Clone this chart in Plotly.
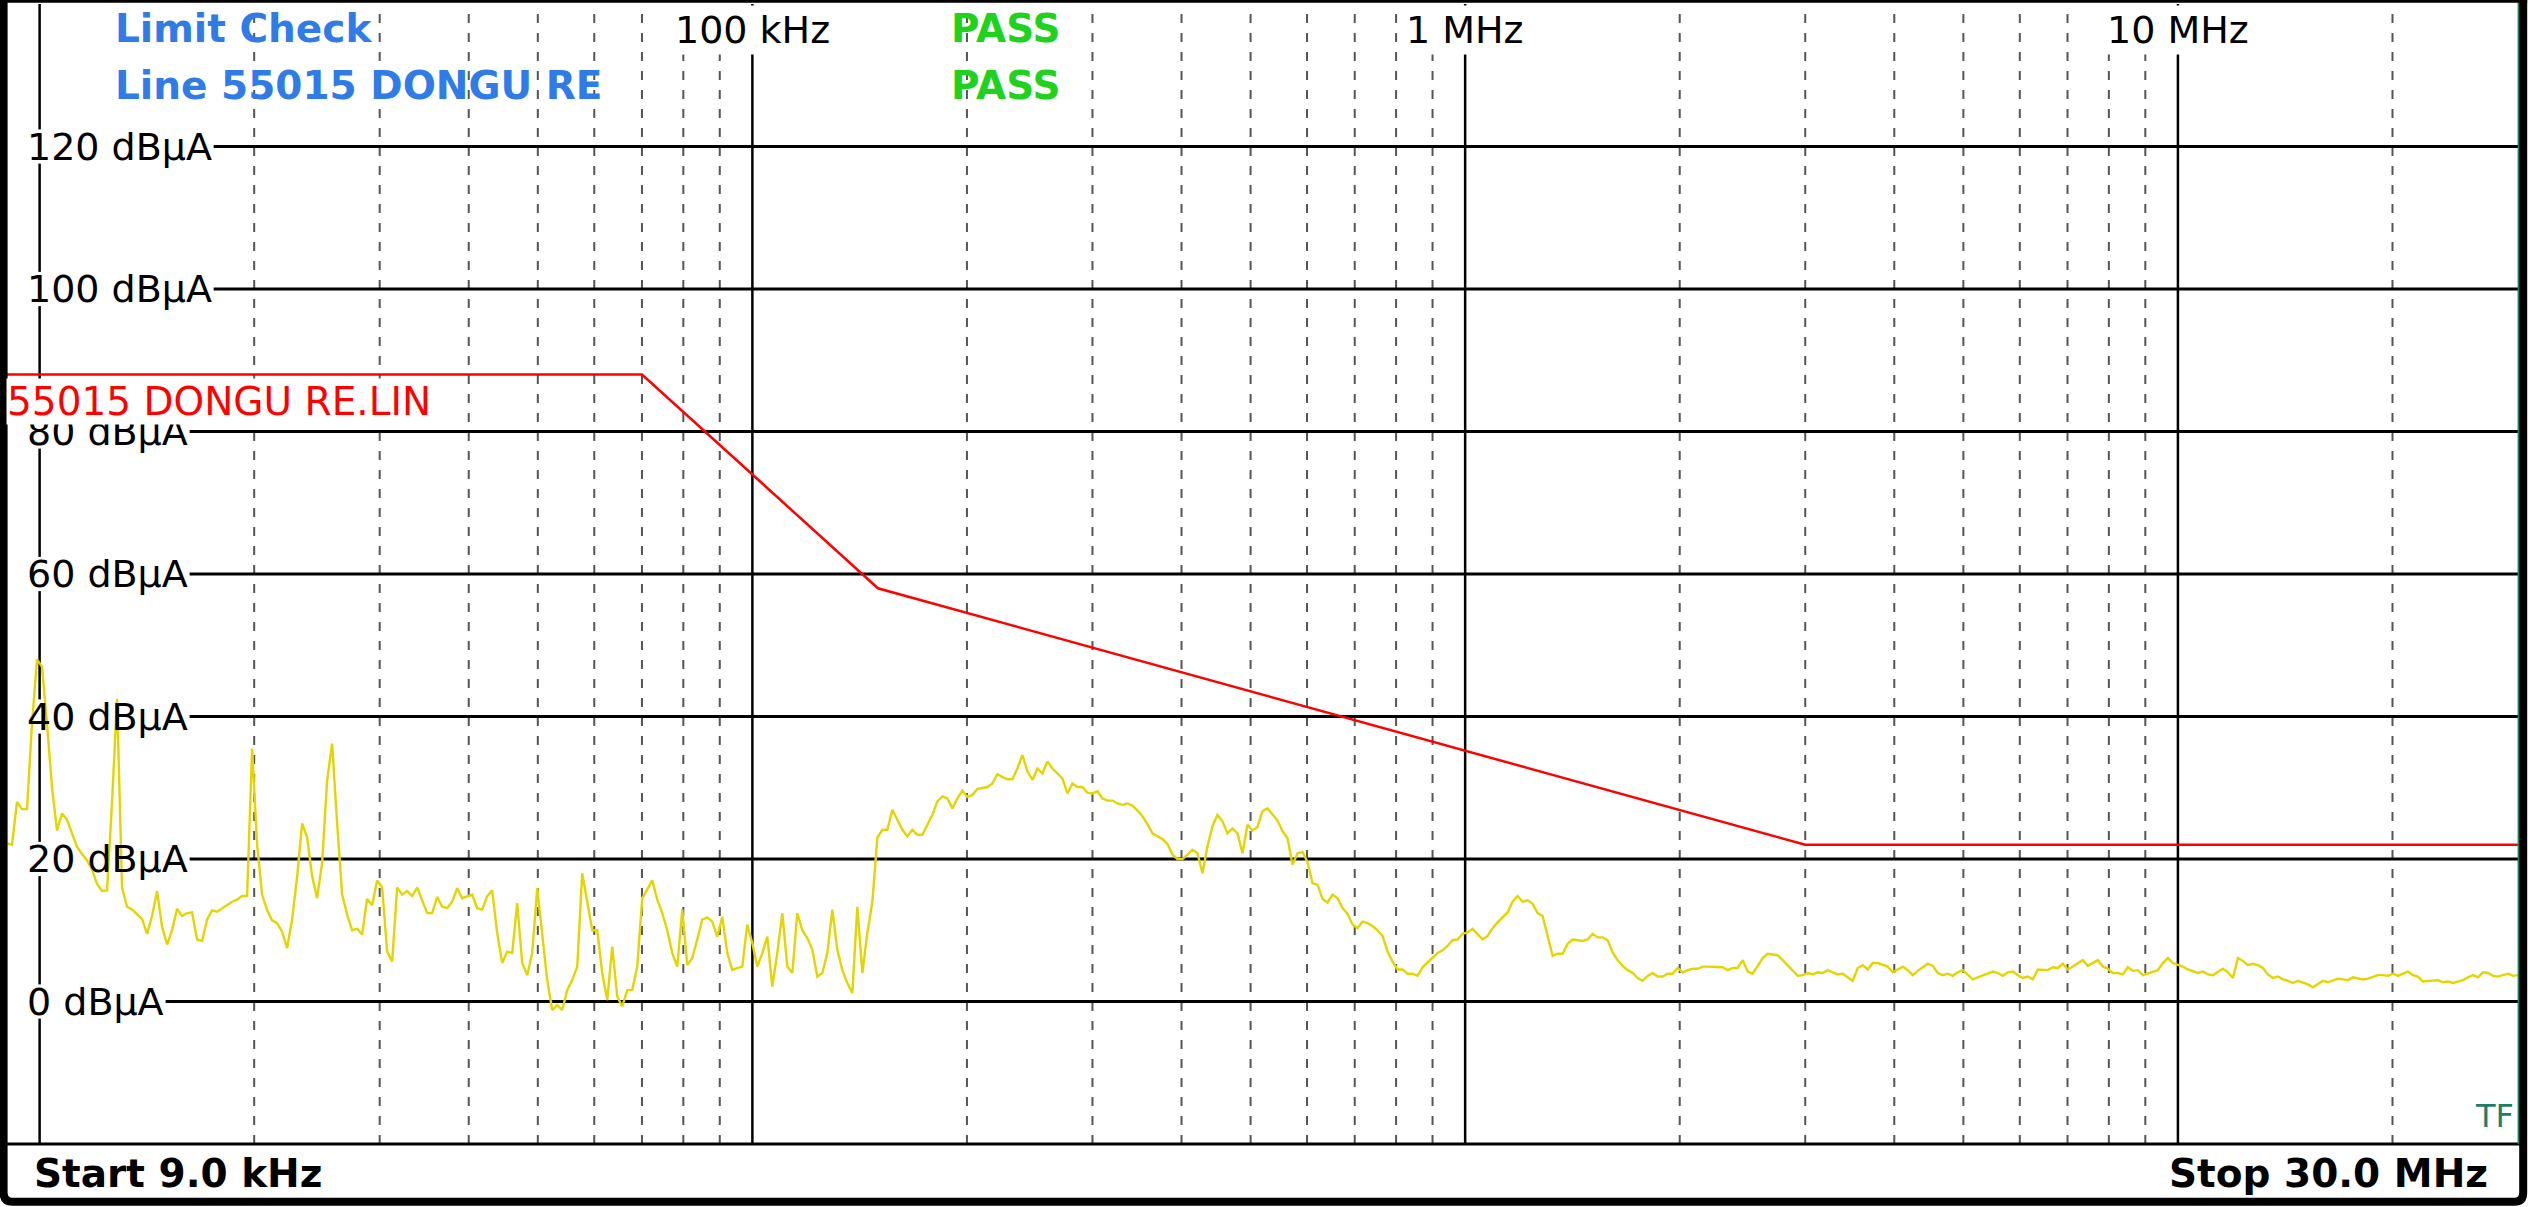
import math
import plotly.graph_objects as go

# ---------------- data ----------------
start_hz = 9e3
stop_hz = 30e6
level_min, level_max = -20, 140

level_ticks = [120, 100, 80, 60, 40, 20, 0]
level_tick_text = ["120 dBµA", "100 dBµA", "80 dBµA", "60 dBµA", "40 dBµA", "20 dBµA", "0 dBµA"]

decade_hz = [1e4, 1e5, 1e6, 1e7]
decade_text = ["", "100 kHz", "1 MHz", "10 MHz"]
minor_hz = [2e4, 3e4, 4e4, 5e4, 6e4, 7e4, 8e4, 9e4,
            2e5, 3e5, 4e5, 5e5, 6e5, 7e5, 8e5, 9e5,
            2e6, 3e6, 4e6, 5e6, 6e6, 7e6, 8e6, 9e6,
            2e7]

limit_name = "55015 DONGU RE.LIN"
limit_hz = [9e3, 70e3, 150e3, 3e6, 30e6]
limit_dbua = [88, 88, 58, 22, 22]

# measured trace, one value per sweep point (log sweep 9 kHz .. 30 MHz)
trace_9k_20k = [
    22.2, 22, 28, 27, 27, 39, 48, 47, 39, 30,
    24, 26.4, 25.5, 23.5, 21.7, 20.7, 19.8, 18.5, 16.5, 15.5,
    15.6, 28, 42.5, 16, 13.3, 12.9, 12.3, 11.6, 9.5, 12,
    15.5, 10.5, 8, 10, 13, 12, 12.4, 12.5, 8.7, 8.5,
    11.5, 12.8, 12.6, 13.1, 13.5, 14, 14.3, 14.8, 14.8, 35.5,
    22, 15, 12.8, 11.4, 11, 9.8, 7.5, 11.5, 17.5, 25,
    23, 17.6, 14.5, 19.5, 31, 36.2, 25, 15, 12.2, 10,
    10.2, 9.4, 14.4, 13.5, 17, 16, 7, 5.6, 16, 15,
    15.5, 14.8, 16,
]
trace_40k_150k = [
    14.3, 12.4, 12.4, 14.7, 13.3, 13.1, 14, 15.9, 14.5, 14.8,
    15, 13.1, 12.9, 14.8, 15.6, 9.6, 5.4, 7, 6.8, 13.8,
    5.4, 3.7, 6.8, 15.9, 9.1, 3, -1.2, -0.5, -1.2, 1.6,
    3, 4.9, 18, 13.8, 10, 10, 4, 0.2, 7.7, 0.7,
    -0.7, 1.6, 1.6, 4.9, 14.5, 15.7, 17, 14.3, 12.4, 10,
    6.8, 4.9, 12.9, 5.1, 6.1, 8.7, 11.5, 11.8, 11.2, 9.1,
    11.9, 6.8, 4.4, 4.7, 4.9, 10.8, 8.2, 4.9, 6.8, 9.1,
    2.1, 6.8, 12.4, 4.9, 4, 12.4, 10, 8.9, 7.3, 3.5,
    4, 6.8, 12.9, 7.3, 4.4, 2.6, 1.2, 13.3,
]
trace_150k_600k = [
    4, 9.6, 14, 23, 24.1, 24.1, 26.9, 25.5, 24.1, 23.2,
    24.1, 23.4, 23.4, 24.8, 26.2, 28.1, 28.8, 28.5, 27.1, 28.5,
    29.6, 28.7, 29, 29.8, 29.9, 30.1, 30.6, 31.9, 31.5, 31.2,
    31.2, 32.7, 34.6, 32.3, 31.1, 32.7, 32, 33.7, 32.7, 32,
    31.3, 29.2, 30.6, 30.1, 30.1, 29.3, 29.2, 29.5, 28.5, 28.2,
    28.2, 27.8, 27.6, 27.8, 27.5, 26.8, 26, 24.9, 23.6, 23.2,
    22.8, 22.1, 20.6, 20, 20, 20.6, 21.3, 20.8, 18, 21.8,
    24.6, 26.2, 25.3, 23.6, 24.3, 23.6, 20.8, 24.8, 24, 24.5,
    26.7, 27.1, 26.2, 25.4, 23.9, 22.9, 19.2, 20.8,
]
trace_600k_2m = [
    21, 19.6, 16.6, 16.4, 14.4, 13.9, 15, 14.5, 13.1, 12.3,
    10.8, 10.3, 11.2, 11, 10.6, 10, 9.2, 7, 5.6, 4.5,
    4.5, 3.9, 3.9, 3.6, 4.8, 5.5, 6.2, 6.8, 7.2, 7.8,
    8.6, 8.7, 9.5, 9.7, 10.2, 9.5, 8.7, 9.2, 10.3, 11.1,
    11.8, 12.5, 14, 14.8, 14, 14.2, 13.7, 12.4, 12, 9.1,
    6.4, 6.7, 6.7, 8.1, 8.7, 8.6, 8.5, 8.7, 9.5, 9,
    9, 8.6, 6.9, 5.8, 5, 4.4, 4, 3.3, 2.9, 3.6,
    4, 3.5, 3.5, 3.9, 3.9, 4.7, 4.1, 4.4, 4.6, 4.6,
    4.9, 4.9, 4.9, 4.9, 4.8, 4.4, 4.7, 4.7,
]
trace_2m_8m = [
    5.8, 4.2, 3.9, 5, 6.1, 6.7, 6.6, 6.5, 5.8, 5.1,
    4.4, 3.6, 3.7, 4, 3.8, 4.1, 4, 4.4, 4.1, 3.8,
    3.9, 3.4, 2.9, 4.7, 5.1, 4.5, 5.4, 5.4, 5.1, 4.9,
    4.1, 4.5, 4.9, 4.4, 3.7, 4.3, 4.8, 5.3, 5, 4,
    3.7, 3.9, 3.6, 4.1, 4.4, 3.7, 3.1, 3.4, 3.7, 3.9,
    4.2, 4, 3.6, 4.1, 4.2, 3.7, 3.3, 3.5, 3.1, 4.5,
    4.5, 4.4, 4.8, 4.7, 5.3, 4.5, 4.9, 5.4, 5.8, 5,
    5.4, 5.8, 4.9, 4.6, 4, 4, 3.8, 4.8, 4.3, 4.4,
]
trace_8m_30m = [
    3.7, 3.9, 4.2, 4.4, 5.4, 6.1, 5.4, 5.2, 4.9, 4.5,
    4.2, 4, 4.2, 3.8, 3.7, 4.1, 4.6, 4.1, 3.3, 6.1,
    5.7, 5.1, 5.3, 5.1, 4.7, 3.8, 3.3, 3.5, 3.1, 2.9,
    2.6, 2.9, 2.7, 2.4, 2, 2.4, 2.9, 2.7, 2.9, 3.2,
    3.1, 3, 3.4, 3.3, 3.1, 3.2, 3.5, 3.7, 3.7, 3.6,
    3.9, 3.6, 3.9, 4.2, 3.7, 3.5, 2.8, 2.9, 2.9, 3,
    2.7, 2.8, 2.6, 2.8, 3, 3.4, 3.7, 3.4, 4.1, 4,
    3.6, 3.5, 3.7, 3.9, 3.6, 3.7,
]
trace_dbua = (trace_9k_20k + trace_40k_150k + trace_150k_600k
              + trace_600k_2m + trace_2m_8m + trace_8m_30m)

header_lines = ["Limit Check", "Line 55015 DONGU RE"]
header_results = ["PASS", "PASS"]
start_label = "Start 9.0 kHz"
stop_label = "Stop 30.0 MHz"
trace_tag = "TF"

# ---------------- layout geometry (pixels) ----------------
W, H = 2536, 1207
PL, PR, PT, PB = 7.4, 2517.8, 4.2, 1144.2


def px(xp):
    return (xp - PL) / (PR - PL)


def py(yp):
    return (PB - yp) / (PB - PT)


FONT = "DejaVu Sans"
YELLOW = "#e4d500"
RED = "#ff0000"
BLUE = "#2f7be8"
GREEN = "#1ed21e"
TEAL = "#1f7f66"

fig = go.Figure()

fig.add_trace(go.Scatter(
    y=trace_dbua, xaxis="x2", yaxis="y", mode="lines",
    line=dict(color=YELLOW, width=2.4), hoverinfo="skip", showlegend=False,
))
fig.add_trace(go.Scatter(
    x=limit_hz, y=limit_dbua, xaxis="x", yaxis="y", mode="lines",
    line=dict(color=RED, width=2.5), hoverinfo="skip", showlegend=False,
))

shapes = []
# dashed minor lines
for f in minor_hz:
    shapes.append(dict(type="line", xref="x", yref="paper", x0=f, x1=f, y0=0, y1=1,
                       line=dict(color="#555555", width=2, dash="9px,10px"), layer="below"))
# decade lines (first decade line is broken by the level labels)
gap = 2.4
for f in decade_hz[1:]:
    shapes.append(dict(type="line", xref="x", yref="paper", x0=f, x1=f, y0=0, y1=1,
                       line=dict(color="black", width=2.5), layer="below"))
edges = [level_max]
for v in level_ticks:
    edges += [v + gap, v - gap]
edges.append(level_min)
for k in range(0, len(edges), 2):
    shapes.append(dict(type="line", xref="x", yref="y", x0=decade_hz[0], x1=decade_hz[0],
                       y0=edges[k], y1=edges[k + 1],
                       line=dict(color="black", width=2.5), layer="below"))
# horizontal level lines, starting after their label
label_end = {120: 214, 100: 214, 80: 190, 60: 190, 40: 190, 20: 190, 0: 166}
for v in level_ticks:
    shapes.append(dict(type="line", xref="paper", yref="y", x0=px(label_end[v]), x1=1,
                       y0=v, y1=v, line=dict(color="black", width=3), layer="below"))
# plot bottom line and right edge
shapes.append(dict(type="line", xref="paper", yref="paper", x0=px(6), x1=px(2520),
                   y0=0, y1=0, line=dict(color="black", width=3), layer="above"))
shapes.append(dict(type="line", xref="paper", yref="paper", x0=px(2518.4), x1=px(2518.4),
                   y0=0, y1=py(0), line=dict(color=TEAL, width=2), layer="above"))
# instrument frame: top band + rounded outer frame
shapes.append(dict(type="rect", xref="paper", yref="paper",
                   x0=px(0), x1=px(2527), y0=py(3), y1=py(0),
                   fillcolor="black", line=dict(width=0), layer="above"))
fx0, fx1, fy0, fy1, rad = 4, 2523, -10, 1202, 9
frame_path = (f"M {px(fx0)} {py(fy0)} L {px(fx0)} {py(fy1 - rad)} "
              f"Q {px(fx0)} {py(fy1)} {px(fx0 + rad)} {py(fy1)} "
              f"L {px(fx1 - rad)} {py(fy1)} "
              f"Q {px(fx1)} {py(fy1)} {px(fx1)} {py(fy1 - rad)} "
              f"L {px(fx1)} {py(fy0)}")
shapes.append(dict(type="path", xref="paper", yref="paper", path=frame_path,
                   line=dict(color="black", width=8), layer="above"))

annotations = []
for v, t in zip(level_ticks, level_tick_text):
    annotations.append(dict(xref="paper", yref="y", x=px(25), y=v, xanchor="left",
                            yanchor="middle", text=t, showarrow=False,
                            font=dict(family=FONT, size=38, color="black")))
for f, t in zip(decade_hz, decade_text):
    if t:
        annotations.append(dict(xref="x", yref="paper", x=math.log10(f), y=py(30),
                                xanchor="center", yanchor="middle", text=t, showarrow=False,
                                bgcolor="white", borderpad=2,
                                font=dict(family=FONT, size=38, color="black")))
for t, r, yy in zip(header_lines, header_results, [29, 86]):
    annotations.append(dict(xref="paper", yref="paper", x=px(113), y=py(yy), xanchor="left",
                            yanchor="middle", text=t, showarrow=False,
                            font=dict(family=FONT, size=39, color=BLUE, weight="bold")))
    annotations.append(dict(xref="paper", yref="paper", x=px(1006), y=py(yy), xanchor="center",
                            yanchor="middle", text=r, showarrow=False,
                            font=dict(family=FONT, size=39, color=GREEN, weight="bold")))
annotations.append(dict(xref="paper", yref="paper", x=px(6), y=py(402), xanchor="left",
                        yanchor="middle", text=limit_name, showarrow=False,
                        bgcolor="white", borderpad=0,
                        font=dict(family=FONT, size=39, color=RED)))
annotations.append(dict(xref="paper", yref="paper", x=px(2516), y=py(1116), xanchor="right",
                        yanchor="middle", text=trace_tag, showarrow=False,
                        font=dict(family=FONT, size=32, color=TEAL)))
annotations.append(dict(xref="paper", yref="paper", x=px(32), y=py(1174), xanchor="left",
                        yanchor="middle", text=start_label, showarrow=False,
                        font=dict(family=FONT, size=39, color="black", weight="bold")))
annotations.append(dict(xref="paper", yref="paper", x=px(2490), y=py(1174), xanchor="right",
                        yanchor="middle", text=stop_label, showarrow=False,
                        font=dict(family=FONT, size=39, color="black", weight="bold")))

fig.update_layout(
    width=W, height=H,
    margin=dict(l=PL, r=W - PR, t=PT, b=H - PB, pad=0),
    paper_bgcolor="white", plot_bgcolor="rgba(0,0,0,0)",
    showlegend=False,
    xaxis=dict(type="log", range=[math.log10(start_hz), math.log10(stop_hz)],
               showgrid=False, zeroline=False, showticklabels=False, ticks="",
               showline=False, fixedrange=True),
    xaxis2=dict(overlaying="x", range=[0, len(trace_dbua) - 1], visible=False,
                fixedrange=True),
    yaxis=dict(range=[level_min, level_max], showgrid=False, zeroline=False,
               showticklabels=False, ticks="", showline=False, fixedrange=True),
    shapes=shapes,
    annotations=annotations,
)

fig.write_html("out.html", config={"displayModeBar": False, "staticPlot": True},
               post_script="document.body.style.margin='0';document.body.style.overflow='hidden';")
